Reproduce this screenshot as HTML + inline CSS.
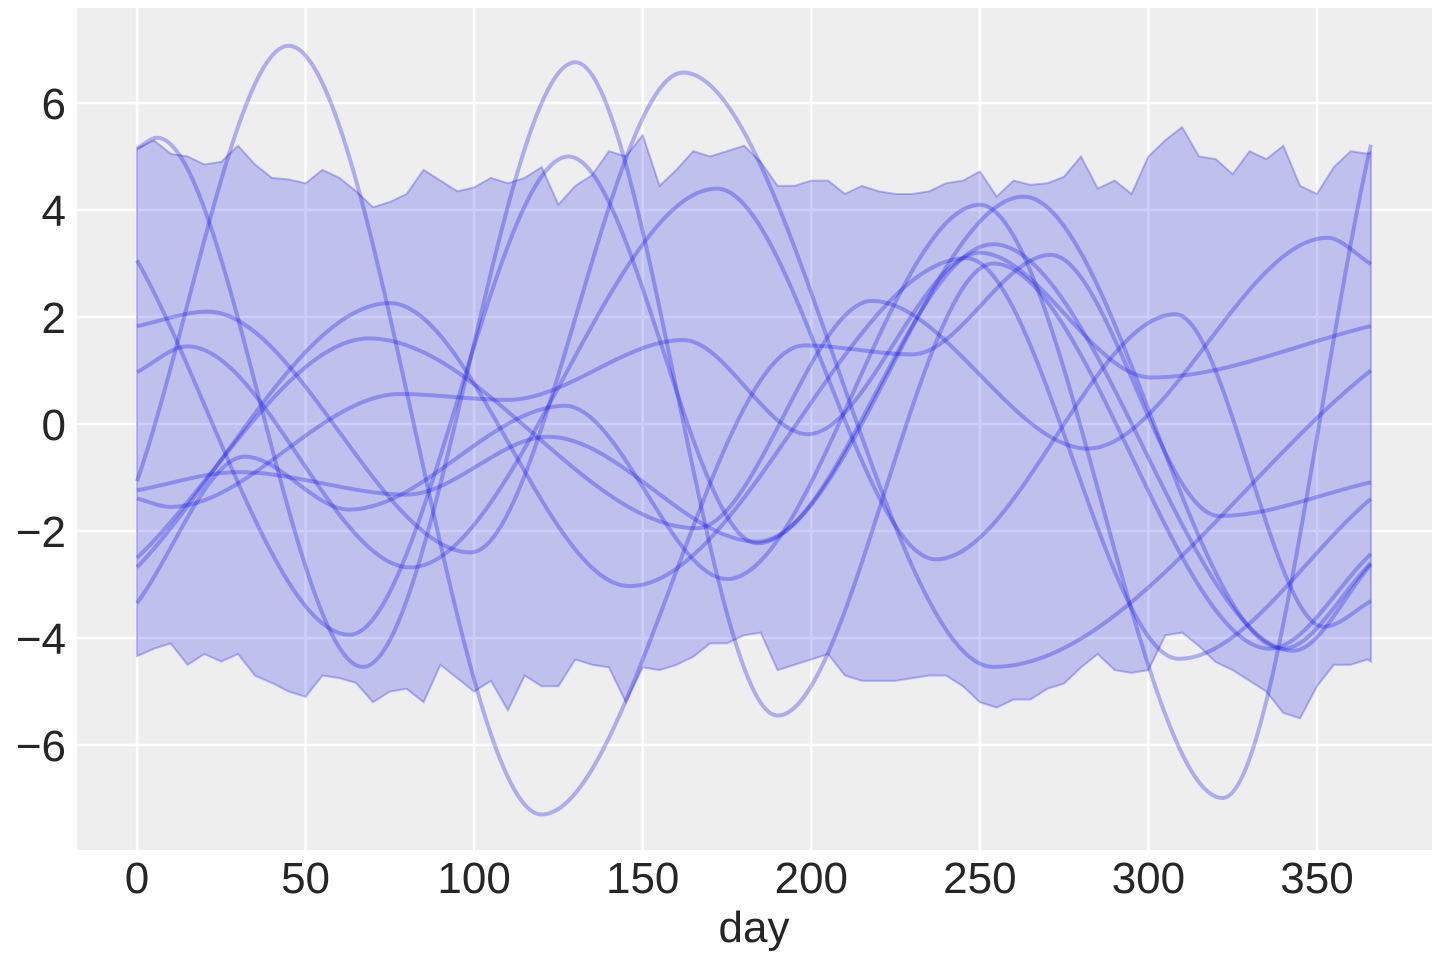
<!DOCTYPE html>
<html><head><meta charset="utf-8">
<style>
html,body{margin:0;padding:0;background:#fff;}
svg{display:block;}
text{font-family:"Liberation Sans","DejaVu Sans",sans-serif;fill:#262626;}
</style></head>
<body>
<svg id="chart" width="1440" height="960" xmlns="http://www.w3.org/2000/svg">
  <rect x="77" y="8" width="1355" height="842" fill="#eeeeee"/>
  <g id="grid"></g>
  <g id="band"></g>
  <g id="lines"></g>
  <g id="ticks"></g>
  <text x="754" y="942" font-size="44" text-anchor="middle">day</text>
</svg>
<script>
const xTicks = [0, 50, 100, 150, 200, 250, 300, 350];
const yTicks = [-6, -4, -2, 0, 2, 4, 6];
const bandUpper = [5.15,5.3,5.05,5.0,4.85,4.9,5.2,4.85,4.6,4.57,4.5,4.75,4.6,4.35,4.05,4.15,4.3,4.75,4.55,4.35,4.42,4.6,4.5,4.6,4.8,4.1,4.45,4.65,5.1,5.0,5.4,4.45,4.75,5.1,5.0,5.1,5.2,4.9,4.45,4.45,4.55,4.55,4.3,4.45,4.35,4.3,4.3,4.35,4.5,4.55,4.72,4.25,4.55,4.47,4.5,4.62,5.0,4.4,4.55,4.3,5.0,5.3,5.55,5.0,4.95,4.67,5.1,4.95,5.2,4.45,4.3,4.8,5.1,5.05,5.08];
const bandLower = [-4.34,-4.2,-4.1,-4.5,-4.3,-4.44,-4.3,-4.7,-4.84,-5.0,-5.1,-4.7,-4.75,-4.84,-5.2,-5.0,-4.95,-5.2,-4.5,-4.75,-5.0,-4.8,-5.35,-4.7,-4.9,-4.9,-4.4,-4.5,-4.55,-5.2,-4.55,-4.6,-4.5,-4.35,-4.1,-4.1,-3.95,-3.9,-4.6,-4.5,-4.4,-4.3,-4.7,-4.8,-4.8,-4.8,-4.75,-4.7,-4.7,-4.9,-5.2,-5.3,-5.15,-5.15,-4.95,-4.85,-4.55,-4.3,-4.6,-4.65,-4.6,-3.95,-3.9,-4.15,-4.45,-4.6,-4.8,-5.0,-5.4,-5.5,-4.9,-4.5,-4.5,-4.4,-4.44];
const c1 = [[0,-1.07],[45,7.07],[120,-7.3],[198,1.47],[230,1.3],[271,3.16],[321,-1.72],[366,-1.09]];
const c2 = [[0,5.15],[6,5.35],[67,-4.54],[130,6.76],[190,-5.45],[254,3.0],[336,-4.2],[366,-2.43]];
const c3 = [[0,3.06],[63,-3.94],[128,5.0],[184,-2.23],[254,3.36],[343,-4.24],[366,-2.63]];
const c4 = [[0,-2.68],[75,2.26],[146,-3.03],[246,3.1],[309,-4.39],[366,-1.4]];
const c5 = [[0,1.83],[21,2.1],[99,-2.4],[162,6.57],[254,-4.54],[366,1.0]];
const c6 = [[0,0.97],[15,1.45],[81,-2.68],[172,4.4],[237,-2.53],[308,2.05],[352,-3.79],[366,-3.31]];
const c7 = [[0,-2.5],[69,1.6],[166,-1.95],[218,2.3],[282,-0.46],[353,3.48],[366,2.99]];
const c8 = [[0,-1.39],[10,-1.55],[78,0.56],[110,0.45],[162,1.57],[199,-0.19],[250,3.2],[301,0.87],[366,1.83]];
const c9 = [[0,-3.35],[32,-0.61],[63,-1.6],[127,0.34],[175,-2.9],[250,4.1],[322,-6.99],[366,5.22]];
const c10 = [[0,-1.24],[30,-0.9],[80,-1.32],[122,-0.24],[184,-2.2],[263,4.25],[340,-4.2],[366,-2.6]];
const series = [c1,c2,c3,c4,c5,c6,c7,c8,c9,c10];

const NS = "http://www.w3.org/2000/svg";
function xs(d){ return 137 + d * 3.3714; }
function ys(v){ return 424 - v * 53.5; }

const grid = document.getElementById('grid');
xTicks.forEach(t => {
  const l = document.createElementNS(NS,'line');
  l.setAttribute('x1',xs(t)); l.setAttribute('x2',xs(t)); l.setAttribute('y1',8); l.setAttribute('y2',850);
  l.setAttribute('stroke','#fff'); l.setAttribute('stroke-width','2.5');
  
  
  grid.appendChild(l);
});
yTicks.forEach(t => {
  const l = document.createElementNS(NS,'line');
  l.setAttribute('x1',77); l.setAttribute('x2',1432); l.setAttribute('y1',ys(t)); l.setAttribute('y2',ys(t));
  l.setAttribute('stroke','#fff'); l.setAttribute('stroke-width','2.5');
  
  
  grid.appendChild(l);
});

const band = document.getElementById('band');
const bandDays = bandUpper.map((_, i) => Math.min(i * 5, 366));
let pts = [];
bandDays.forEach((d,i)=>pts.push(xs(d).toFixed(1)+','+ys(bandUpper[i]).toFixed(1)));
for(let i=bandDays.length-1;i>=0;i--) pts.push(xs(bandDays[i]).toFixed(1)+','+ys(bandLower[i]).toFixed(1));
const poly = document.createElementNS(NS,'polygon');
poly.setAttribute('points',pts.join(' '));
poly.setAttribute('fill','rgba(10,10,230,0.2)');
poly.setAttribute('stroke','rgba(40,40,240,0.3)');
poly.setAttribute('stroke-width','2');


band.appendChild(poly);

function pathFor(k){
  const n=k.length, m=[];
  for(let i=0;i<n;i++){
    if(i===0) m.push((k[1][1]-k[0][1])/(k[1][0]-k[0][0]));
    else if(i===n-1) m.push((k[n-1][1]-k[n-2][1])/(k[n-1][0]-k[n-2][0]));
    else{
      const s0=(k[i][1]-k[i-1][1])/(k[i][0]-k[i-1][0]);
      const s1=(k[i+1][1]-k[i][1])/(k[i+1][0]-k[i][0]);
      m.push(s0*s1<=0?0:(s0+s1)/2);
    }
  }
  let d='M'+xs(k[0][0]).toFixed(1)+','+ys(k[0][1]).toFixed(1);
  for(let i=0;i<n-1;i++){
    const h=k[i+1][0]-k[i][0];
    const x1=k[i][0]+h/3, y1=k[i][1]+m[i]*h/3;
    const x2=k[i+1][0]-h/3, y2=k[i+1][1]-m[i+1]*h/3;
    d+=' C'+xs(x1).toFixed(1)+','+ys(y1).toFixed(1)+' '+xs(x2).toFixed(1)+','+ys(y2).toFixed(1)+' '+xs(k[i+1][0]).toFixed(1)+','+ys(k[i+1][1]).toFixed(1);
  }
  return d;
}
const lines = document.getElementById('lines');
series.forEach((s,i)=>{
  const p = document.createElementNS(NS,'path');
  p.setAttribute('d',pathFor(s));
  p.setAttribute('fill','none');
  p.setAttribute('stroke','rgba(20,20,240,0.3)');
  p.setAttribute('stroke-width','4');
  
  
  lines.appendChild(p);
});

const ticks = document.getElementById('ticks');
xTicks.forEach(t=>{
  const tx=document.createElementNS(NS,'text');
  tx.setAttribute('x',xs(t)); tx.setAttribute('y',893);
  tx.setAttribute('font-size','44'); tx.setAttribute('text-anchor','middle');
  tx.textContent=String(t);
  
  
  ticks.appendChild(tx);
});
yTicks.forEach(t=>{
  const tx=document.createElementNS(NS,'text');
  tx.setAttribute('x',66); tx.setAttribute('y',ys(t)+16);
  tx.setAttribute('font-size','44'); tx.setAttribute('text-anchor','end');
  tx.textContent=(t<0?'\u2212':'')+Math.abs(t);
  
  
  ticks.appendChild(tx);
});
</script>
</body></html>
